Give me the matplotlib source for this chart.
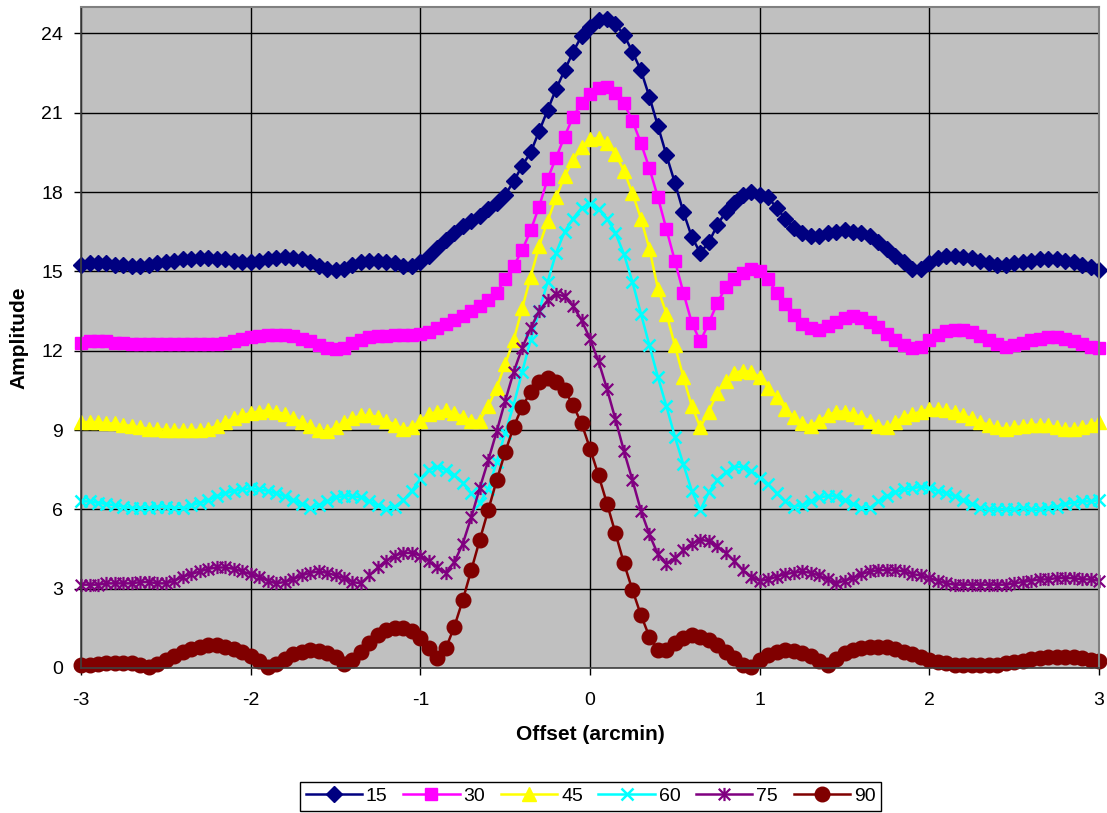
import numpy as np
import matplotlib
matplotlib.use("Agg")
import matplotlib.pyplot as plt
from matplotlib.path import Path

plt.rcParams['font.family'] = ['Liberation Sans', 'DejaVu Sans']
plt.rcParams['axes.unicode_minus'] = False

# offset grid, 0.05 arcmin steps
offset = np.round(np.arange(-3.0, 3.0001, 0.05), 2)

amp_15 = [
    15.25, 15.3, 15.3, 15.3, 15.25, 15.25, 15.2, 15.2, 15.25, 15.3,
    15.35, 15.4, 15.45, 15.45, 15.5, 15.5, 15.45, 15.45, 15.4, 15.35,
    15.35, 15.4, 15.45, 15.5, 15.55, 15.5, 15.45, 15.35, 15.2, 15.1,
    15.05, 15.1, 15.25, 15.35, 15.4, 15.4, 15.35, 15.3, 15.2, 15.2,
    15.35, 15.6, 15.9, 16.2, 16.45, 16.7, 16.9, 17.1, 17.35, 17.6,
    17.9, 18.4, 19.0, 19.5, 20.3, 21.1, 21.9, 22.6, 23.3, 23.9,
    24.25, 24.5, 24.55, 24.35, 23.95, 23.3, 22.6, 21.6, 20.5, 19.4,
    18.35, 17.25, 16.3, 15.7, 16.1, 16.75, 17.25, 17.6, 17.9, 18.0,
    17.9, 17.8, 17.4, 17.0, 16.65, 16.45, 16.35, 16.35, 16.45, 16.5,
    16.55, 16.5, 16.45, 16.35, 16.1, 15.85, 15.6, 15.35, 15.1, 15.1,
    15.3, 15.5, 15.6, 15.6, 15.55, 15.5, 15.4, 15.3, 15.25, 15.25,
    15.3, 15.35, 15.4, 15.45, 15.45, 15.45, 15.4, 15.35, 15.25, 15.15,
    15.05,
]

amp_30 = [
    12.3, 12.35, 12.35, 12.35, 12.3, 12.3, 12.25, 12.25, 12.25, 12.25,
    12.25, 12.25, 12.25, 12.25, 12.25, 12.25, 12.25, 12.3, 12.35, 12.45,
    12.5, 12.55, 12.6, 12.6, 12.6, 12.55, 12.45, 12.35, 12.2, 12.1,
    12.05, 12.1, 12.3, 12.4, 12.5, 12.55, 12.55, 12.6, 12.6, 12.6,
    12.65, 12.7, 12.85, 13.0, 13.15, 13.3, 13.5, 13.7, 13.9, 14.2,
    14.7, 15.2, 15.8, 16.55, 17.45, 18.5, 19.3, 20.1, 20.85, 21.35,
    21.7, 21.95, 21.97, 21.75, 21.35, 20.7, 19.85, 18.9, 17.8, 16.6,
    15.4, 14.2, 13.05, 12.35, 13.05, 13.8, 14.4, 14.7, 14.95, 15.1,
    15.0, 14.7, 14.2, 13.75, 13.35, 13.0, 12.85, 12.8, 12.95, 13.1,
    13.25, 13.3, 13.25, 13.1, 12.9, 12.65, 12.4, 12.2, 12.1, 12.15,
    12.4, 12.6, 12.75, 12.8, 12.8, 12.7, 12.55, 12.4, 12.25, 12.15,
    12.2, 12.3, 12.4, 12.45, 12.5, 12.5, 12.45, 12.35, 12.25, 12.15,
    12.1,
]

amp_45 = [
    9.3, 9.3, 9.3, 9.25, 9.25, 9.2, 9.15, 9.1, 9.05, 9.05,
    9.0, 9.0, 9.0, 9.0, 9.0, 9.05, 9.15, 9.3, 9.45, 9.55,
    9.65, 9.7, 9.75, 9.7, 9.6, 9.45, 9.3, 9.15, 9.0, 8.95,
    9.1, 9.3, 9.45, 9.55, 9.55, 9.5, 9.35, 9.2, 9.05, 9.1,
    9.35, 9.6, 9.7, 9.75, 9.65, 9.5, 9.35, 9.35, 9.9, 10.6,
    11.5, 12.4, 13.6, 14.8, 15.95, 16.9, 17.8, 18.6, 19.2, 19.7,
    20.0, 20.05, 19.85, 19.45, 18.8, 17.95, 17.0, 15.85, 14.35, 13.4,
    12.2, 11.0, 9.9, 9.1, 9.7, 10.4, 10.85, 11.15, 11.25, 11.2,
    11.0, 10.6, 10.25, 9.8, 9.5, 9.25, 9.15, 9.35, 9.55, 9.7,
    9.7, 9.6, 9.5, 9.35, 9.15, 9.1, 9.3, 9.5, 9.6, 9.7,
    9.8, 9.8, 9.75, 9.7, 9.55, 9.45, 9.3, 9.2, 9.1, 9.05,
    9.1, 9.15, 9.2, 9.2, 9.2, 9.1, 9.05, 9.05, 9.1, 9.2,
    9.3,
]

amp_60 = [
    6.3, 6.3, 6.25, 6.2, 6.15, 6.1, 6.05, 6.05, 6.05, 6.1,
    6.1, 6.05, 6.05, 6.15, 6.25, 6.35, 6.5, 6.6, 6.7, 6.75,
    6.8, 6.75, 6.7, 6.6, 6.5, 6.35, 6.2, 6.05, 6.15, 6.3,
    6.45, 6.5, 6.5, 6.45, 6.3, 6.15, 6.0, 6.1, 6.35, 6.7,
    7.15, 7.5, 7.6, 7.5, 7.3, 7.0, 6.6, 6.25, 6.75, 7.8,
    8.9, 9.95, 11.2, 12.4, 13.5, 14.6, 15.7, 16.5, 17.0, 17.4,
    17.55, 17.35, 17.0, 16.45, 15.65, 14.6, 13.4, 12.2, 11.0, 9.9,
    8.75, 7.7, 6.7, 5.97, 6.65, 7.1, 7.4, 7.6, 7.6, 7.45,
    7.2, 6.95, 6.6, 6.3, 6.1, 6.15, 6.3, 6.45, 6.5, 6.5,
    6.35, 6.2, 6.05, 6.05, 6.3, 6.5, 6.65, 6.75, 6.8, 6.85,
    6.8, 6.7, 6.6, 6.5, 6.35, 6.2, 6.05, 6.0, 6.0, 6.0,
    6.0, 6.05, 6.0, 6.0, 6.05, 6.1, 6.2, 6.25, 6.3, 6.3,
    6.35,
]

amp_75 = [
    3.15, 3.15, 3.15, 3.2, 3.2, 3.2, 3.2, 3.25, 3.25, 3.2,
    3.2, 3.3, 3.45, 3.55, 3.65, 3.75, 3.8, 3.8, 3.75, 3.65,
    3.55, 3.45, 3.3, 3.2, 3.25, 3.35, 3.5, 3.6, 3.65, 3.6,
    3.5, 3.4, 3.25, 3.2, 3.5, 3.8, 4.05, 4.25, 4.35, 4.35,
    4.25, 4.05, 3.8, 3.6, 4.0, 4.7, 5.7, 6.8, 7.85, 8.95,
    10.1, 11.2, 12.1, 12.85, 13.5, 13.9, 14.15, 14.05, 13.7, 13.15,
    12.45, 11.6, 10.55, 9.4, 8.2, 7.1, 5.95, 5.05, 4.3, 3.95,
    4.15, 4.45, 4.7, 4.85, 4.8, 4.6, 4.35, 4.05, 3.7, 3.45,
    3.3, 3.35, 3.45, 3.55, 3.6, 3.65, 3.6, 3.5, 3.35, 3.2,
    3.3, 3.4, 3.55, 3.65, 3.7, 3.7, 3.7, 3.65, 3.55, 3.5,
    3.4, 3.3, 3.2, 3.15, 3.15, 3.15, 3.15, 3.15, 3.15, 3.15,
    3.2, 3.25, 3.3, 3.35, 3.35, 3.4, 3.4, 3.4, 3.35, 3.35,
    3.3,
]

amp_90 = [
    0.1, 0.12, 0.15, 0.18, 0.18, 0.2, 0.2, 0.12, 0.05, 0.15,
    0.3, 0.45, 0.6, 0.72, 0.8, 0.85, 0.85, 0.8, 0.72, 0.6,
    0.45, 0.25, 0.05, 0.15, 0.35, 0.52, 0.62, 0.68, 0.65, 0.55,
    0.4, 0.15, 0.3, 0.6, 0.95, 1.25, 1.42, 1.5, 1.5, 1.4,
    1.12, 0.74, 0.37, 0.74, 1.56, 2.57, 3.7, 4.84, 5.97, 7.1,
    8.17, 9.12, 9.88, 10.44, 10.82, 10.95, 10.82, 10.51, 9.94, 9.25,
    8.3, 7.29, 6.22, 5.09, 3.96, 2.95, 2.0, 1.18, 0.68, 0.68,
    0.93, 1.12, 1.25, 1.18, 1.06, 0.87, 0.62, 0.37, 0.11, 0.05,
    0.3, 0.5, 0.62, 0.68, 0.65, 0.58, 0.45, 0.25, 0.1, 0.35,
    0.55, 0.68, 0.75, 0.8, 0.8, 0.78, 0.7, 0.62, 0.52, 0.4,
    0.3, 0.22, 0.17, 0.12, 0.1, 0.1, 0.1, 0.1, 0.12, 0.17,
    0.22, 0.28, 0.33, 0.38, 0.42, 0.43, 0.43, 0.42, 0.38, 0.32,
    0.25,
]

labels = ['15', '30', '45', '60', '75', '90']
colors = ['#000080', '#FF00FF', '#FFFF00', '#00FFFF', '#800080', '#800000']

# asterisk marker: an X crossed with a vertical bar
asterisk = Path(
    [(-1, -1), (1, 1), (-1, 1), (1, -1), (0, -1.15), (0, 1.15)],
    [Path.MOVETO, Path.LINETO, Path.MOVETO, Path.LINETO, Path.MOVETO, Path.LINETO],
)

styles = [
    dict(marker='D', markersize=8.2),
    dict(marker='s', markersize=9.0),
    dict(marker='^', markersize=10.5),
    dict(marker='x', markersize=9.0, markeredgewidth=1.8),
    dict(marker=asterisk, markersize=9.5, markeredgewidth=1.6),
    dict(marker='o', markersize=10.5),
]

fig = plt.figure(figsize=(11.07, 8.13), dpi=100)
ax = fig.add_axes([0.0732, 0.1784, 0.9196, 0.8130])
ax.set_facecolor('#C0C0C0')

series = [amp_15, amp_30, amp_45, amp_60, amp_75, amp_90]
for vals, lab, col, st in zip(series, labels, colors, styles):
    ax.plot(offset, vals, color=col, linewidth=1.8, label=lab,
            markerfacecolor=col, markeredgecolor=col, clip_on=False, **st)

ax.set_xlim(-3, 3)
ax.set_ylim(0, 25)
ax.set_xticks(range(-3, 4))
ax.set_yticks(range(0, 25, 3))
ax.grid(True, color='black', linewidth=1.0)
ax.set_axisbelow(True)

for side in ['top', 'right']:
    ax.spines[side].set_color('#808080')
    ax.spines[side].set_linewidth(1.5)
for side in ['left', 'bottom']:
    ax.spines[side].set_color('#404040')
    ax.spines[side].set_linewidth(1.2)

ax.tick_params(axis='both', direction='out', length=5, width=1, color='black',
               labelsize=14)
ax.tick_params(axis='x', pad=12)
ax.tick_params(axis='y', pad=8)

ax.set_xlabel('Offset (arcmin)', fontsize=15, fontweight='bold', labelpad=12)
ax.set_ylabel('Amplitude', fontsize=15, fontweight='bold', labelpad=9)

fig.legend(loc='center', bbox_to_anchor=(0.5335, 0.0205), ncol=6,
           fontsize=14, frameon=True, fancybox=False, edgecolor='black',
           framealpha=1, handlelength=2.9, handletextpad=0.2,
           columnspacing=0.8, borderpad=0.3, borderaxespad=0)

fig.savefig('out.png', dpi=100)
